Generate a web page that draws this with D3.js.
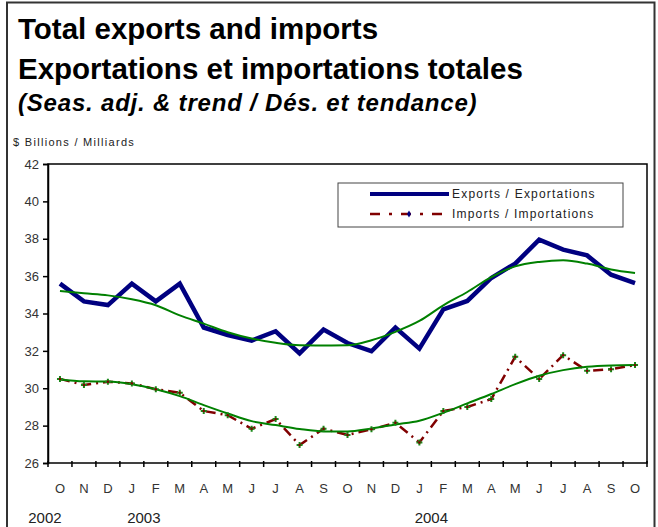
<!DOCTYPE html>
<html>
<head>
<meta charset="utf-8">
<script src="https://cdn.jsdelivr.net/npm/d3@7"></script>
<style>
  body { margin: 0; background: #fff; }
  svg { font-family: "Liberation Sans", Arial, sans-serif; }
</style>
</head>
<body>
<svg></svg>
<script>
const width = 658;
const height = 527;

// months Oct 2002 .. Oct 2004
const months = ["O","N","D","J","F","M","A","M","J","J","A","S","O","N","D","J","F","M","A","M","J","J","A","S","O"];
const years = [{label: "2002", index: 0}, {label: "2003", index: 3}, {label: "2004", index: 15}];

const exportsSA = [35.6, 34.65, 34.45, 35.6, 34.65, 35.6, 33.25, 32.85, 32.55, 33.05, 31.87, 33.14, 32.42,
    31.98, 33.25, 32.12, 34.22, 34.67, 35.9, 36.67, 37.95, 37.42, 37.11, 36.08, 35.63];
const exportsTrend = [35.2, 35.08, 34.97, 34.76, 34.44, 33.9, 33.46, 33.0, 32.66, 32.43, 32.3, 32.29, 32.3,
    32.57, 33.02, 33.6, 34.44, 35.15, 35.95, 36.52, 36.76, 36.85, 36.67, 36.36, 36.17];
const importsSA = [30.5, 30.17, 30.35, 30.26, 29.95, 29.76, 28.78, 28.56, 27.83, 28.35, 26.96, 27.83, 27.5,
    27.8, 28.15, 27.1, 28.78, 29.0, 29.42, 31.68, 30.49, 31.77, 30.93, 31.02, 31.24];
const importsTrend = [30.47, 30.37, 30.36, 30.22, 29.95, 29.58, 29.1, 28.65, 28.24, 28.03, 27.82, 27.69, 27.69,
    27.85, 28.06, 28.26, 28.69, 29.19, 29.69, 30.22, 30.67, 30.97, 31.15, 31.22, 31.24];
const yTicks = [26, 28, 30, 32, 34, 36, 38, 40, 42];

const margin = {top: 164, right: 11, bottom: 64, left: 48};

const svg = d3.select("svg")
    .attr("width", width)
    .attr("height", height);

// outer frame
svg.append("rect")
    .attr("x", 7).attr("y", 2.5)
    .attr("width", 647.5).attr("height", 540)
    .attr("fill", "none")
    .attr("stroke", "#333")
    .attr("stroke-width", 2);

// titles
svg.append("text").attr("x", 18).attr("y", 39)
    .attr("font-size", 29.5).attr("font-weight", "bold").attr("fill", "#000")
    .text("Total exports and imports");
svg.append("text").attr("x", 18).attr("y", 79)
    .attr("font-size", 29.5).attr("font-weight", "bold").attr("fill", "#000")
    .text("Exportations et importations totales");
svg.append("text").attr("x", 18).attr("y", 111)
    .attr("font-size", 24).attr("font-weight", "bold").attr("font-style", "italic").attr("fill", "#000")
    .attr("letter-spacing", 0.8)
    .text("(Seas. adj. & trend / Dés. et tendance)");
svg.append("text").attr("x", 13).attr("y", 146)
    .attr("font-size", 11).attr("fill", "#222").attr("letter-spacing", 1.3)
    .text("$ Billions / Milliards");

const x = d3.scaleBand()
    .domain(d3.range(months.length))
    .range([margin.left, width - margin.right])
    .padding(0);

const y = d3.scaleLinear()
    .domain([26, 42])
    .range([height - margin.bottom, margin.top]);

const cx = i => x(i) + x.bandwidth() / 2;

// plot frame
svg.append("rect")
    .attr("x", margin.left).attr("y", margin.top)
    .attr("width", width - margin.right - margin.left)
    .attr("height", height - margin.bottom - margin.top)
    .attr("fill", "none")
    .attr("stroke", "#000")
    .attr("stroke-width", 1.5);

// y axis
const yAxis = svg.append("g")
    .attr("transform", `translate(${margin.left},0)`)
    .call(d3.axisLeft(y).tickValues(yTicks).tickSize(5).tickPadding(4));
yAxis.select(".domain").attr("stroke", "#000").attr("stroke-width", 1.5);
yAxis.selectAll(".tick line").attr("stroke", "#000").attr("stroke-width", 1.5);
yAxis.selectAll("text").attr("font-size", 13).attr("fill", "#333")
    .attr("font-family", "Liberation Sans, Arial, sans-serif");

// x axis: ticks at band edges
const xAxisG = svg.append("g").attr("transform", `translate(0,${height - margin.bottom})`);
xAxisG.selectAll("line")
    .data(d3.range(months.length + 1))
    .enter().append("line")
    .attr("x1", i => i < months.length ? x(i) : x(months.length - 1) + x.bandwidth())
    .attr("x2", i => i < months.length ? x(i) : x(months.length - 1) + x.bandwidth())
    .attr("y1", -2).attr("y2", 4)
    .attr("stroke", "#000").attr("stroke-width", 1.5);
xAxisG.selectAll("text.month")
    .data(months)
    .enter().append("text")
    .attr("class", "month")
    .attr("x", (d, i) => cx(i))
    .attr("y", 30)
    .attr("text-anchor", "middle")
    .attr("font-size", 13).attr("fill", "#333")
    .text(d => d);
xAxisG.selectAll("text.year")
    .data(years)
    .enter().append("text")
    .attr("class", "year")
    .attr("x", d => d.index === 0 ? cx(d.index) - 15 : cx(d.index) + 12)
    .attr("y", 60)
    .attr("text-anchor", "middle")
    .attr("font-size", 15).attr("fill", "#222")
    .text(d => d.label);

const line = d3.line()
    .x((d, i) => cx(i))
    .y(d => y(d));

const trendLine = d3.line()
    .x((d, i) => cx(i))
    .y(d => y(d))
    .curve(d3.curveMonotoneX);

// exports
svg.append("path")
    .datum(exportsSA)
    .attr("d", line)
    .attr("fill", "none")
    .attr("stroke", "#000080")
    .attr("stroke-width", 4.5)
    .attr("stroke-linejoin", "miter");

// imports (dash-dot)
svg.append("path")
    .datum(importsSA)
    .attr("d", line)
    .attr("fill", "none")
    .attr("stroke", "#800000")
    .attr("stroke-width", 2.5)
    .attr("stroke-dasharray", "10,5,2,5");

// trends
[exportsTrend, importsTrend].forEach(t => {
    svg.append("path")
        .datum(t)
        .attr("d", trendLine)
        .attr("fill", "none")
        .attr("stroke", "#008000")
        .attr("stroke-width", 2);
});

// import markers
const marks = svg.append("g").selectAll("g")
    .data(importsSA)
    .enter().append("g")
    .attr("transform", (d, i) => `translate(${cx(i)},${y(d)})`);
marks.append("path")
    .attr("d", d3.symbol(d3.symbolCross, 20))
    .attr("fill", "#1a8a1a");
marks.append("circle")
    .attr("r", 1.2)
    .attr("fill", "#800000");

// legend
const legend = svg.append("g").attr("transform", "translate(338,183)");
legend.append("rect")
    .attr("width", 285).attr("height", 44)
    .attr("fill", "#fff")
    .attr("stroke", "#444").attr("stroke-width", 1);
legend.append("line")
    .attr("x1", 32).attr("x2", 111).attr("y1", 11).attr("y2", 11)
    .attr("stroke", "#000080").attr("stroke-width", 4);
legend.append("line")
    .attr("x1", 32).attr("x2", 111).attr("y1", 31).attr("y2", 31)
    .attr("stroke", "#800000").attr("stroke-width", 2.5)
    .attr("stroke-dasharray", "10,9,3,9");
legend.append("path")
    .attr("transform", "translate(71,31)")
    .attr("d", d3.symbol(d3.symbolDiamond, 14))
    .attr("fill", "#000080");
legend.selectAll("text")
    .data(["Exports / Exportations", "Imports / Importations"])
    .enter().append("text")
    .attr("x", 114)
    .attr("y", (d, i) => 15 + i * 20)
    .attr("font-size", 12)
    .attr("letter-spacing", 1.2)
    .attr("fill", "#222")
    .text(d => d);
</script>
</body>
</html>
